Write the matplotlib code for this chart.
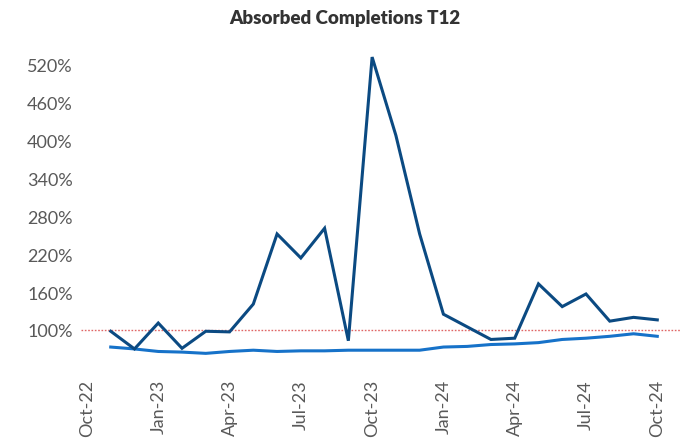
import matplotlib
matplotlib.use("Agg")
import matplotlib.pyplot as plt
from matplotlib.ticker import FuncFormatter

months = ["Oct-22", "Nov-22", "Dec-22", "Jan-23", "Feb-23", "Mar-23", "Apr-23", "May-23",
          "Jun-23", "Jul-23", "Aug-23", "Sep-23", "Oct-23", "Nov-23", "Dec-23", "Jan-24",
          "Feb-24", "Mar-24", "Apr-24", "May-24", "Jun-24", "Jul-24", "Aug-24", "Sep-24", "Oct-24"]
data_months = months[1:]
absorbed_dark = [98, 70, 111, 71, 98, 97, 141, 252, 214, 261, 83, 532,
                 408, 252, 125, 105, 85, 87, 173, 137, 157, 114, 120, 116]
absorbed_light = [73, 70, 66, 65, 63, 66, 68, 66, 67, 67, 68, 68,
                  68, 68, 73, 74, 77, 78, 80, 85, 87, 90, 94, 90]
tick_labels = ["Oct-22", "Jan-23", "Apr-23", "Jul-23", "Oct-23", "Jan-24", "Apr-24", "Jul-24", "Oct-24"]
y_ticks = [100, 160, 220, 280, 340, 400, 460, 520]
reference_level = 100

plt.rcParams['font.family'] = ['Lato', 'DejaVu Sans']

fig = plt.figure(figsize=(6.82, 4.39), dpi=100)
ax = fig.add_axes([0.1188, 0.1597, 0.8798, 0.7483])

xpos = [months.index(m) for m in data_months]
ax.axhline(reference_level, color="#E06666", lw=1.0, ls=(0, (1.2, 1.2)), zorder=1)
ax.plot(xpos, absorbed_light, color="#1672C9", lw=2.2, solid_joinstyle="miter", zorder=2)
ax.plot(xpos, absorbed_dark, color="#0B4A82", lw=2.2, solid_joinstyle="miter", zorder=3)

ax.set_xlim(-0.25, 25)
ax.set_ylim(40, 560)
ax.set_yticks(y_ticks)
ax.yaxis.set_major_formatter(FuncFormatter(lambda v, p: f"{v:.0f}%"))
ax.set_xticks([months.index(t) for t in tick_labels])
ax.set_xticklabels(tick_labels, rotation=90)
for s in ax.spines.values():
    s.set_visible(False)
ax.tick_params(axis="both", length=0, labelsize=13, labelcolor="#595959")
ax.tick_params(axis="x", pad=8)
ax.tick_params(axis="y", pad=6)

fig.text(0.505, 0.957, "Absorbed Completions T12", ha="center", va="center",
         fontsize=13.5, fontweight="heavy", color="#333333")

fig.savefig("out.png", dpi=100)
